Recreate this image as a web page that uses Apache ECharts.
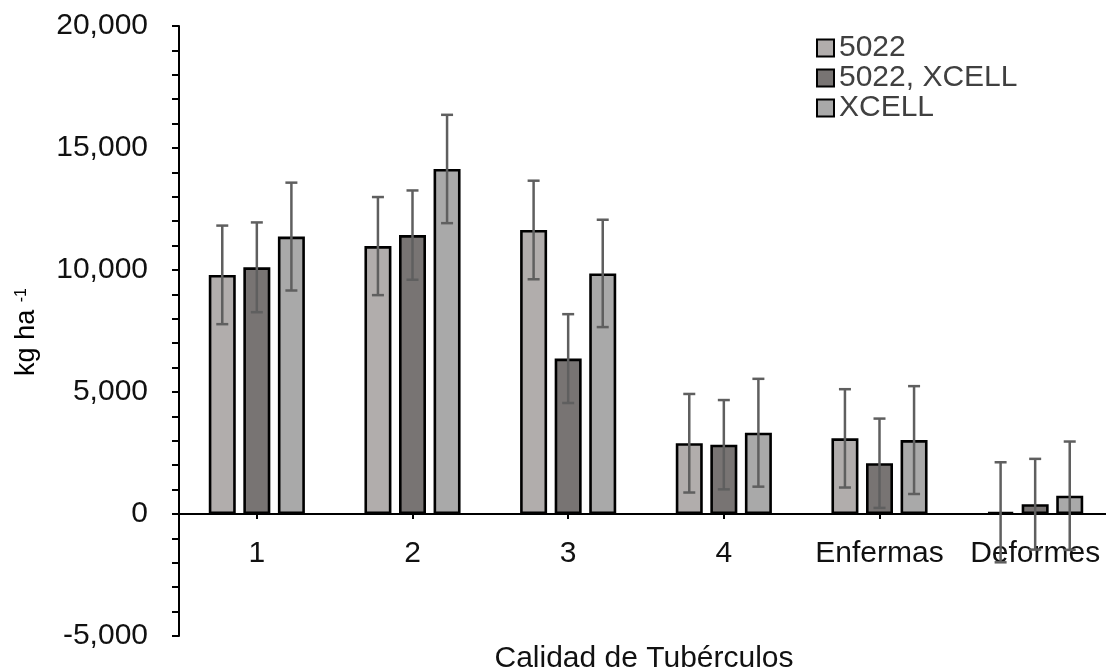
<!DOCTYPE html>
<html>
<head>
<meta charset="utf-8">
<script src="https://cdn.jsdelivr.net/npm/echarts@6/dist/echarts.min.js"></script>
<style>html,body{margin:0;padding:0;background:#fff}#c{width:1106px;height:672px}</style>
</head>
<body>
<div id="c"></div>
<script>
var categories = ['1', '2', '3', '4', 'Enfermas', 'Deformes'];
var seriesNames = ['5022', '5022, XCELL', 'XCELL'];
var values5022 = [9800, 10980, 11640, 2900, 3100, 70];
var values5022X = [10110, 11430, 6370, 2840, 2080, 400];
var valuesXCELL = [11370, 14140, 9860, 3330, 3030, 750];
var err5022 = [2020, 2010, 2020, 2020, 2015, 2050];
var err5022X = [1840, 1830, 1820, 1830, 1830, 1860];
var errXCELL = [2210, 2220, 2200, 2210, 2210, 2220];
var yTicks = [-5000, 0, 5000, 10000, 15000, 20000];

var FONT = '"Liberation Sans", Arial, sans-serif';
var colors = ['#b1adac', '#787473', '#a9a9a9'];
var BW = 27, GAP = 0.28;
var vals = [values5022, values5022X, valuesXCELL];
var errs = [err5022, err5022X, errXCELL];

var chart = echarts.init(document.getElementById('c'), null, {renderer: 'canvas'});

var series = [];
seriesNames.forEach(function (n, i) {
  series.push({
    name: n, type: 'bar', data: vals[i], barWidth: BW, barGap: (GAP * 100) + '%',
    itemStyle: {color: colors[i], borderColor: '#000', borderWidth: 2.6}
  });
});
// category labels placed at the zero line
series.push({
  type: 'custom', z: 3, silent: true,
  data: categories.map(function (c, k) { return [k, 0]; }),
  encode: {x: 0, y: 1},
  renderItem: function (params, api) {
    var k = api.value(0);
    var p = api.coord([k, 0]);
    return {type: 'text', x: p[0], y: p[1] + 40,
      style: {text: categories[k], font: '30px ' + FONT, fill: '#111', textAlign: 'center', textVerticalAlign: 'middle'}};
  }
});
seriesNames.forEach(function (n, i) {
  var data = vals[i].map(function (v, k) { return [k, v, errs[i][k]]; });
  series.push({
    type: 'custom', z: 5, silent: true,
    data: data,
    encode: {x: 0, y: 1},
    renderItem: function (params, api) {
      var k = api.value(0), v = api.value(1), e = api.value(2);
      var off = (i - 1) * BW * (1 + GAP);
      var p1 = api.coord([k, v + e]), p2 = api.coord([k, v - e]);
      var x = p1[0] + off, cw = 6;
      var st = {stroke: '#5f5f5f', lineWidth: 2.5};
      return {type: 'group', children: [
        {type: 'line', shape: {x1: x, y1: p1[1], x2: x, y2: p2[1]}, style: st},
        {type: 'line', shape: {x1: x - cw, y1: p1[1], x2: x + cw, y2: p1[1]}, style: st},
        {type: 'line', shape: {x1: x - cw, y1: p2[1], x2: x + cw, y2: p2[1]}, style: st}
      ]};
    }
  });
});

chart.setOption({
  animation: false,
  backgroundColor: '#fff',
  textStyle: {fontFamily: FONT},
  grid: {left: 179, right: -7, top: 26, bottom: 36, containLabel: false, outerBoundsMode: 'none'},
  legend: {
    orient: 'vertical', left: 811, top: 28, itemWidth: 17, itemHeight: 17, itemGap: 0,
    icon: 'rect',
    data: seriesNames,
    textStyle: {fontFamily: FONT, fontSize: 30, color: '#404040', padding: [0, 0, 0, 0]}
  },
  xAxis: {
    type: 'category', data: categories,
    axisLine: {onZero: true, lineStyle: {color: '#000', width: 2}},
    axisTick: {show: true, alignWithLabel: true, length: 5, lineStyle: {color: '#000', width: 2}},
    axisLabel: {show: false},
    splitLine: {show: false}
  },
  yAxis: {
    type: 'value', min: yTicks[0], max: yTicks[yTicks.length - 1], interval: 5000,
    axisLine: {show: true, lineStyle: {color: '#000', width: 2}},
    axisTick: {show: true, length: 7, lineStyle: {color: '#000', width: 2}},
    minorTick: {show: true, splitNumber: 5, length: 7, lineStyle: {color: '#000', width: 2}},
    axisLabel: {fontFamily: FONT, fontSize: 30, color: '#111', margin: 31,
      formatter: function (v) { return v.toLocaleString('en-US'); }},
    splitLine: {show: false}
  },
  graphic: [
    {type: 'text', x: 644, y: 659, style: {text: 'Calidad de Tubérculos', font: '30px ' + FONT, fill: '#111', textAlign: 'center', textVerticalAlign: 'middle'}},
    {type: 'text', x: 27, y: 332, rotation: Math.PI / 2,
      style: {text: '{n|kg ha }{s|-1}', textAlign: 'center', textVerticalAlign: 'middle',
        rich: {n: {fontFamily: FONT, fontSize: 27, color: '#111'},
               s: {fontFamily: FONT, fontSize: 16, color: '#111', verticalAlign: 'top', padding: [0, 0, 10, 0]}}}}
  ],
  series: series
});
</script>
</body>
</html>
